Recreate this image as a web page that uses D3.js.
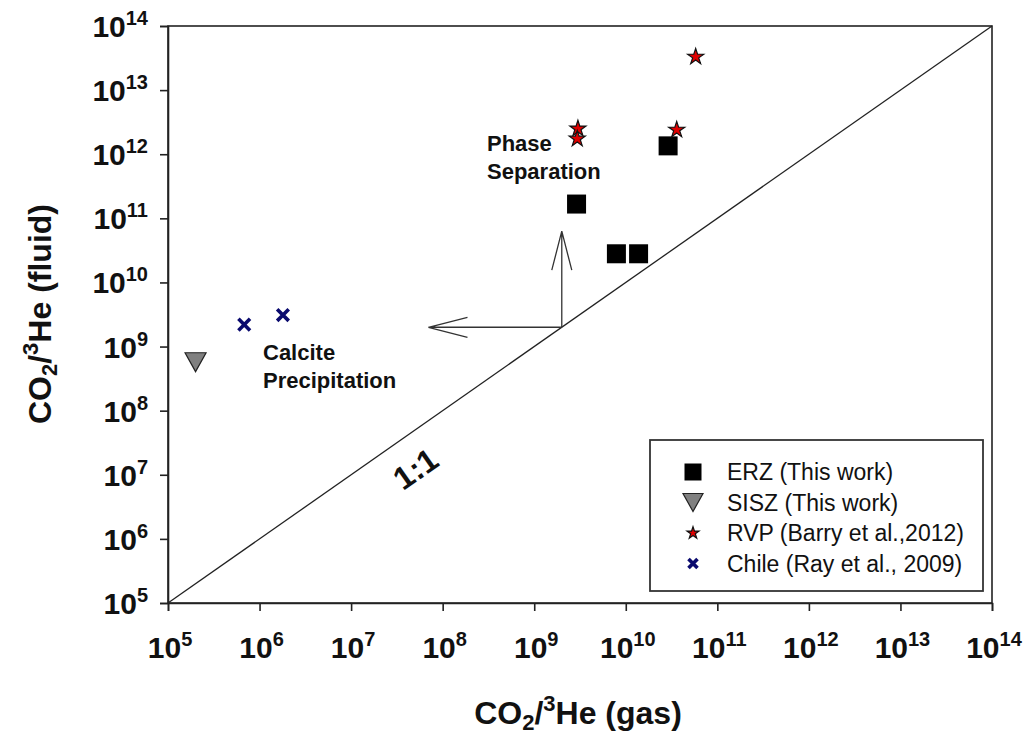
<!DOCTYPE html>
<html>
<head>
<meta charset="utf-8">
<script src="https://cdn.jsdelivr.net/npm/d3@7"></script>
<style>
  body { margin: 0; background: #fff; }
  svg { font-family: "Liberation Sans", Arial, sans-serif; }
</style>
</head>
<body>
<svg id="chart" width="1025" height="735"></svg>
<script>
// ERZ (This work)
var erzGas = [2.9e9, 7.9e9, 1.38e10, 2.9e10];
var erzFluid = [1.67e11, 2.8e10, 2.8e10, 1.35e12];
// SISZ (This work)
var siszGas = [2.0e5];
var siszFluid = [5.7e8];
// RVP (Barry et al., 2012)
var rvpGas = [3.0e9, 2.95e9, 3.6e10, 5.8e10];
var rvpFluid = [2.5e12, 1.74e12, 2.4e12, 3.3e13];
// Chile (Ray et al., 2009)
var chileGas = [6.8e5, 1.8e6];
var chileFluid = [2.2e9, 3.1e9];

var tickExps = [5, 6, 7, 8, 9, 10, 11, 12, 13, 14];
var oneToOne = [1e5, 1e14];
var arrowOrigin = [2e9, 2e9];
var arrowUpTip = [2e9, 6.3e10];
var arrowLeftTip = [7e7, 2e9];

var legendItems = ["ERZ (This work)", "SISZ (This work)", "RVP (Barry et al.,2012)", "Chile (Ray et al., 2009)"];

var svg = d3.select("#chart"),
    margin = {top: 26, right: 33, bottom: 132, left: 168},
    width = 1025 - margin.left - margin.right,
    height = 735 - margin.top - margin.bottom,
    g = svg.append("g").attr("transform", "translate(" + margin.left + "," + margin.top + ")");

var x = d3.scaleLog().domain([1e5, 1e14]).range([0, width]);
var y = d3.scaleLog().domain([1e5, 1e14]).range([height, 0]);

function zip(a, b) { return a.map(function(v, i) { return [v, b[i]]; }); }

// frame
g.append("rect")
  .attr("width", width).attr("height", height)
  .attr("fill", "none").attr("stroke", "#222").attr("stroke-width", 1.6);

// axes
var xAx = g.append("g")
  .attr("transform", "translate(0," + height + ")")
  .call(d3.axisBottom(x).tickValues(tickExps.map(function(e) { return Math.pow(10, e); })).tickSize(8).tickFormat(""));
var yAx = g.append("g")
  .call(d3.axisLeft(y).tickValues(tickExps.map(function(e) { return Math.pow(10, e); })).tickSize(8).tickFormat(""));
[xAx, yAx].forEach(function(a) {
  a.select(".domain").attr("stroke", "#222").attr("stroke-width", 1.6);
  a.selectAll(".tick line").attr("stroke", "#222").attr("stroke-width", 1.6);
});

function powLabel(sel, e) {
  sel.append("tspan").text("10");
  sel.append("tspan").attr("dy", -12).attr("font-size", 20).text(e);
}

tickExps.forEach(function(e) {
  var t = g.append("text")
    .attr("x", x(Math.pow(10, e)) + 2)
    .attr("y", height + 55)
    .attr("text-anchor", "middle")
    .attr("font-size", 30).attr("font-weight", "bold").attr("fill", "#111");
  powLabel(t, e);
  var t2 = g.append("text")
    .attr("x", -20)
    .attr("y", y(Math.pow(10, e)) + 11)
    .attr("text-anchor", "end")
    .attr("font-size", 30).attr("font-weight", "bold").attr("fill", "#111");
  powLabel(t2, e);
});

// axis titles
function axisTitle(sel, tail) {
  sel.append("tspan").text("CO");
  sel.append("tspan").attr("font-size", 22).attr("dy", 6).text("2");
  sel.append("tspan").attr("dy", -6).text("/");
  sel.append("tspan").attr("font-size", 22).attr("dy", -13).text("3");
  sel.append("tspan").attr("dy", 13).text(tail);
}
var xt = svg.append("text")
  .attr("x", margin.left + width / 2 - 2)
  .attr("y", 724)
  .attr("text-anchor", "middle")
  .attr("font-size", 32).attr("font-weight", "bold").attr("fill", "#111");
axisTitle(xt, "He (gas)");

var yt = svg.append("text")
  .attr("transform", "translate(51,314) rotate(-90)")
  .attr("text-anchor", "middle")
  .attr("font-size", 32).attr("font-weight", "bold").attr("fill", "#111");
axisTitle(yt, "He (fluid)");

// 1:1 line
g.append("line")
  .attr("x1", x(oneToOne[0])).attr("y1", y(oneToOne[0]))
  .attr("x2", x(oneToOne[1])).attr("y2", y(oneToOne[1]))
  .attr("stroke", "#222").attr("stroke-width", 1.3);

var ang = Math.atan2(y(oneToOne[1]) - y(oneToOne[0]), x(oneToOne[1]) - x(oneToOne[0])) * 180 / Math.PI;
g.append("text")
  .attr("transform", "translate(" + (422 - margin.left) + "," + (478 - margin.top) + ") rotate(" + ang + ")")
  .attr("text-anchor", "middle")
  .attr("font-size", 32).attr("font-weight", "bold").attr("fill", "#111")
  .text("1:1");

// arrows
function arrow(from, to) {
  var x0 = x(from[0]), y0 = y(from[1]), x1 = x(to[0]), y1 = y(to[1]);
  var a = Math.atan2(y1 - y0, x1 - x0), L = 39, w = 10;
  var bx = x1 - L * Math.cos(a), by = y1 - L * Math.sin(a);
  var nx = -Math.sin(a) * w, ny = Math.cos(a) * w;
  g.append("path")
    .attr("d", "M" + x0 + "," + y0 + "L" + x1 + "," + y1 +
      "M" + (bx + nx) + "," + (by + ny) + "L" + x1 + "," + y1 + "L" + (bx - nx) + "," + (by - ny))
    .attr("fill", "none").attr("stroke", "#333").attr("stroke-width", 1.3);
}
arrow(arrowOrigin, arrowUpTip);
arrow(arrowOrigin, arrowLeftTip);

// annotations
function label2(px, py, lines) {
  var t = g.append("text").attr("font-size", 22).attr("font-weight", "bold").attr("fill", "#111");
  lines.forEach(function(s, i) {
    t.append("tspan").attr("x", px - margin.left).attr("y", py - margin.top + i * 28).text(s);
  });
}
label2(487, 151, ["Phase", "Separation"]);
label2(263, 360, ["Calcite", "Precipitation"]);

// marker shapes
var starPath = d3.symbol().type(d3.symbolStar);
function downTri(s) {
  var h = s * 0.9;
  return "M" + (-s / 2) + "," + (-h / 2) + "L" + (s / 2) + "," + (-h / 2) + "L0," + (h / 2) + "Z";
}
function drawSquare(sel, s) {
  sel.append("rect").attr("x", -s / 2).attr("y", -s / 2).attr("width", s).attr("height", s).attr("fill", "#000");
}
function drawTri(sel, s) {
  sel.append("path").attr("d", downTri(s)).attr("fill", "#808080").attr("stroke", "#222").attr("stroke-width", 1.2);
}
function drawStar(sel, sz) {
  sel.append("path").attr("d", starPath.size(sz)()).attr("fill", "#e00000").attr("stroke", "#111").attr("stroke-width", 1.2);
}
function drawX(sel, s) {
  sel.append("path").attr("d", "M" + (-s) + "," + (-s) + "L" + s + "," + s + "M" + (-s) + "," + s + "L" + s + "," + (-s))
    .attr("stroke", "#0a0a6e").attr("stroke-width", 3.6).attr("fill", "none");
}

function plot(gx, gy, fn, s) {
  g.selectAll(null).data(zip(gx, gy)).enter().append("g")
    .attr("transform", function(d) { return "translate(" + x(d[0]) + "," + y(d[1]) + ")"; })
    .each(function() { fn(d3.select(this), s); });
}
plot(erzGas, erzFluid, drawSquare, 19);
plot(siszGas, siszFluid, drawTri, 21);
plot(chileGas, chileFluid, drawX, 5.8);
plot(rvpGas, rvpFluid, drawStar, 80);

// legend
var lg = svg.append("g").attr("transform", "translate(650,440)");
lg.append("rect").attr("width", 333).attr("height", 151)
  .attr("fill", "#fff").attr("stroke", "#333").attr("stroke-width", 1.8);
var legendDraw = [
  function(s) { drawSquare(s, 17); },
  function(s) { drawTri(s, 20); },
  function(s) { drawStar(s, 45); },
  function(s) { drawX(s, 4.5); }
];
legendItems.forEach(function(name, i) {
  var row = lg.append("g").attr("transform", "translate(43," + (32 + i * 30.5) + ")");
  legendDraw[i](row);
  row.append("text").attr("x", 34).attr("y", 8)
    .attr("font-size", 23).attr("fill", "#111").text(name);
});
</script>
</body>
</html>
